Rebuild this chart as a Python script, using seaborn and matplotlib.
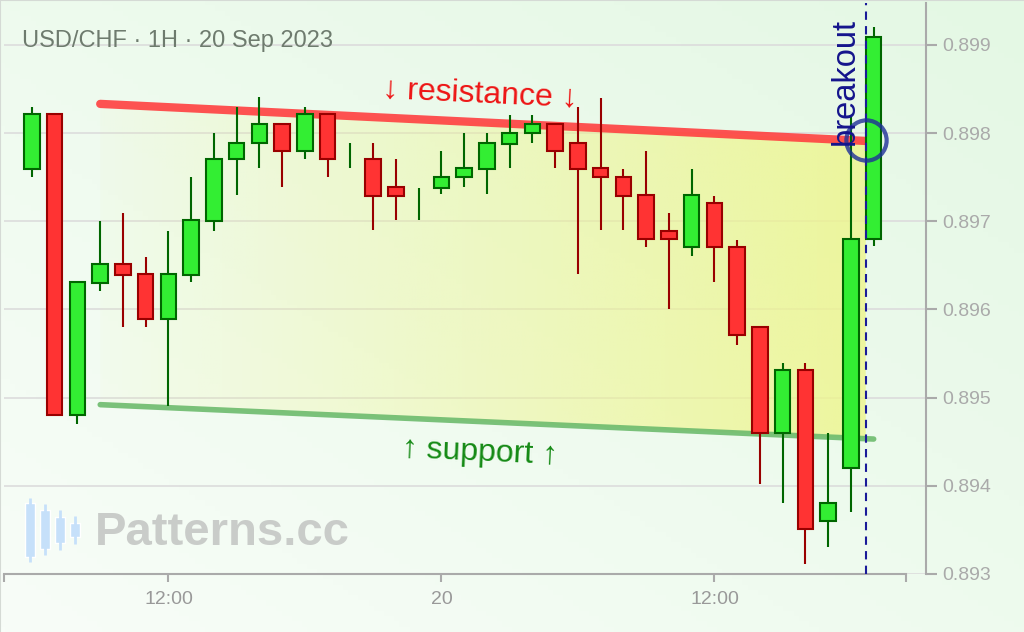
import numpy as np
import pandas as pd
import matplotlib
matplotlib.use("Agg")
import matplotlib.pyplot as plt
import matplotlib.colors as mcolors
from matplotlib.patches import Polygon
import seaborn as sns

# hourly USD/CHF candles, 19-20 Sep 2023
times = pd.date_range("2023-09-19 06:00", periods=38, freq="h")
opens = [0.89759, 0.89821, 0.89480, 0.89630, 0.89651, 0.89640, 0.89589, 0.89639,
         0.89700, 0.89771, 0.89789, 0.89810, 0.89780, 0.89821, 0.89771, 0.89771,
         0.89739, 0.89729, 0.89738, 0.89750, 0.89759, 0.89788, 0.89800, 0.89810,
         0.89789, 0.89760, 0.89750, 0.89730, 0.89689, 0.89671, 0.89721, 0.89671,
         0.89580, 0.89460, 0.89531, 0.89360, 0.89420, 0.89680]
highs = [0.89830, 0.89821, 0.89631, 0.89700, 0.89709, 0.89659, 0.89689, 0.89750,
         0.89800, 0.89830, 0.89841, 0.89810, 0.89830, 0.89821, 0.89789, 0.89789,
         0.89770, 0.89738, 0.89780, 0.89800, 0.89800, 0.89820, 0.89820, 0.89810,
         0.89829, 0.89840, 0.89759, 0.89780, 0.89709, 0.89759, 0.89729, 0.89679,
         0.89580, 0.89539, 0.89539, 0.89460, 0.89818, 0.89920]
lows = [0.89750, 0.89480, 0.89470, 0.89621, 0.89580, 0.89580, 0.89490, 0.89631,
        0.89689, 0.89730, 0.89760, 0.89739, 0.89771, 0.89750, 0.89760, 0.89690,
        0.89701, 0.89701, 0.89731, 0.89739, 0.89731, 0.89760, 0.89789, 0.89760,
        0.89640, 0.89690, 0.89690, 0.89671, 0.89601, 0.89660, 0.89631, 0.89560,
        0.89402, 0.89381, 0.89311, 0.89331, 0.89370, 0.89672]
closes = [0.89821, 0.89480, 0.89631, 0.89651, 0.89639, 0.89589, 0.89640, 0.89701,
          0.89771, 0.89789, 0.89810, 0.89780, 0.89821, 0.89771, 0.89771, 0.89729,
          0.89729, 0.89729, 0.89750, 0.89760, 0.89789, 0.89800, 0.89810, 0.89780,
          0.89759, 0.89750, 0.89729, 0.89680, 0.89680, 0.89730, 0.89671, 0.89571,
          0.89460, 0.89531, 0.89351, 0.89381, 0.89680, 0.89909]

# channel lines, x in candle index
res_x = [3, 36.65]
res_y = [0.89833, 0.89791]
sup_x = [3, 37]
sup_y = [0.89492, 0.89453]

breakout_x = 36.65
breakout_y = 0.89792

y_ticks = [0.893, 0.894, 0.895, 0.896, 0.897, 0.898, 0.899]

# watermark icon candles (icon units)
icon_body_lo = [8, 16, 22, 28]
icon_body_hi = [62, 55, 48, 42]
icon_wick_lo = [3, 10, 15, 21]
icon_wick_hi = [67, 61, 55, 49]

sns.set_theme(style="white")
plt.rcParams["font.family"] = ["Liberation Sans", "DejaVu Sans"]

fig = plt.figure(figsize=(10.24, 6.32), dpi=100)

# soft green background
bg = fig.add_axes([0, 0, 1, 1], zorder=-1)
c_lo = np.array(mcolors.to_rgb("#f8fdf8"))
c_hi = np.array(mcolors.to_rgb("#e4f8e4"))
gx, gy = np.meshgrid(np.linspace(0, 1, 200), np.linspace(0, 1, 120))
t = ((gx + gy) / 2)[..., None]
bg.imshow(c_lo * (1 - t) + c_hi * t, extent=[0, 1, 0, 1], origin="lower", aspect="auto")
bg.plot([0, 0, 1], [0, 1, 1], color="#d5dad5", lw=1.5, transform=bg.transAxes)
bg.set_xlim(0, 1)
bg.set_ylim(0, 1)
bg.axis("off")

ax = fig.add_axes([4 / 1024, 1 - 574 / 632, 922 / 1024, 571 / 632])
ax.set_facecolor("none")

x = np.arange(len(times))
o = np.array(opens)
h = np.array(highs)
l = np.array(lows)
c = np.array(closes)
up = c >= o

# yellow gradient fill inside the channel
fx = np.linspace(res_x[0], res_x[1], 50)
top = np.interp(fx, res_x, res_y)
bot = np.interp(fx, sup_x, sup_y)
poly = Polygon(np.column_stack([np.r_[fx, fx[::-1]], np.r_[top, bot[::-1]]]),
               closed=True, transform=ax.transData, facecolor="none", edgecolor="none")
ax.add_patch(poly)
grad = np.zeros((2, 256, 4))
grad[..., :3] = mcolors.to_rgb("#eef58a")
grad[..., 3] = np.linspace(0.05, 0.8, 256)
im = ax.imshow(grad, extent=[res_x[0], res_x[1], min(sup_y), max(res_y)],
               aspect="auto", origin="lower", zorder=1)
im.set_clip_path(poly)

lines = pd.DataFrame({"x": res_x + sup_x, "y": res_y + sup_y,
                      "line": ["resistance"] * 2 + ["support"] * 2})
sns.lineplot(data=lines[lines.line == "resistance"], x="x", y="y", ax=ax,
             color="#ff4040", alpha=0.9, lw=6, solid_capstyle="round", zorder=2)
sns.lineplot(data=lines[lines.line == "support"], x="x", y="y", ax=ax,
             color="#6dbb6d", alpha=0.9, lw=4, solid_capstyle="round", zorder=2)

# candles
wick_col = np.where(up, "#006600", "#990000")
body_col = np.where(up, "#33ee33", "#ff3333")
ax.vlines(x, l, h, colors=wick_col, lw=1.5, zorder=3)
has_body = o != c
ax.bar(x[has_body], np.abs(c - o)[has_body], bottom=np.minimum(o, c)[has_body],
       width=0.68, color=body_col[has_body], edgecolor=wick_col[has_body],
       linewidth=1.5, zorder=4)

# breakout marker
ax.axvline(breakout_x, color="#1a1a99", lw=1.5, ls=(0, (4, 3)), zorder=5)
ax.plot([breakout_x], [breakout_y], marker="o", ms=29, mfc="none",
        mec="#1f2f99", mew=3, alpha=0.8, zorder=6)
ax.text(35.74, 0.89786, "breakout", rotation=90, ha="center", va="bottom",
        fontsize=23.5, color="#14148c", zorder=6)

ax.text(19.7, 0.89845, "↓ resistance ↓", rotation=-2.7, rotation_mode="anchor",
        ha="center", va="center", fontsize=23, color="#ee1515", zorder=6)
ax.text(19.7, 0.89438, "↑ support ↑", rotation=-2.6, rotation_mode="anchor",
        ha="center", va="center", fontsize=23, color="#158a15", zorder=6)

# axes styling
ax.set_xlim(-1.23, 39.3)
ax.set_ylim(0.893, 0.899474)
ax.set_xlabel("")
ax.set_ylabel("")
ax.yaxis.tick_right()
ax.set_yticks(y_ticks)
ax.set_yticklabels([f"{v:.3f}" for v in y_ticks])
ax.grid(axis="y", color="#dcdcdc", lw=1.2)
ax.grid(axis="x", visible=False)
ax.set_axisbelow(True)

tick_pos = [i for i, tm in enumerate(times) if tm.hour in (0, 12)]
tick_lab = ["12:00" if times[i].hour == 12 else str(times[i].day) for i in tick_pos]
ax.set_xticks(tick_pos)
ax.set_xticklabels(tick_lab)
ax.set_xticks([-1.23, 38.42], minor=True)

for side in ["top", "left"]:
    ax.spines[side].set_visible(False)
for side in ["bottom", "right"]:
    ax.spines[side].set_color("#aaaaaa")
    ax.spines[side].set_linewidth(1.5)
ax.spines["bottom"].set_bounds(-1.23, 38.42)

ax.tick_params(axis="y", which="major", length=8, width=1.5, color="#aaaaaa",
               labelcolor="#aaaaaa", labelsize=14, pad=4, right=True, left=False)
ax.tick_params(axis="x", which="both", length=6, width=1.5, color="#aaaaaa",
               labelcolor="#999999", labelsize=14, pad=6, bottom=True)

fig.text(22 / 1024, 1 - 41 / 632, "USD/CHF · 1H · 20 Sep 2023", fontsize=17,
         color="#6e7b6e", va="center", ha="left")

# watermark
fig.text(95 / 1024, 1 - 533 / 632, "Patterns.cc", fontsize=34, fontweight="bold",
         color="#c9ccc9", va="center", ha="left")
icon = fig.add_axes([22 / 1024, 1 - 565 / 632, 61 / 1024, 70 / 632])
icon.set_facecolor("none")
ix = np.arange(4)
icon.vlines(ix, icon_wick_lo, icon_wick_hi, colors="#c6e0fa", lw=2)
icon.bar(ix, np.subtract(icon_body_hi, icon_body_lo), bottom=icon_body_lo,
         width=0.63, color="#c6e0fa")
icon.set_xlim(-0.533, 3.533)
icon.set_ylim(0, 70)
icon.axis("off")

fig.savefig("out.png", dpi=100)
